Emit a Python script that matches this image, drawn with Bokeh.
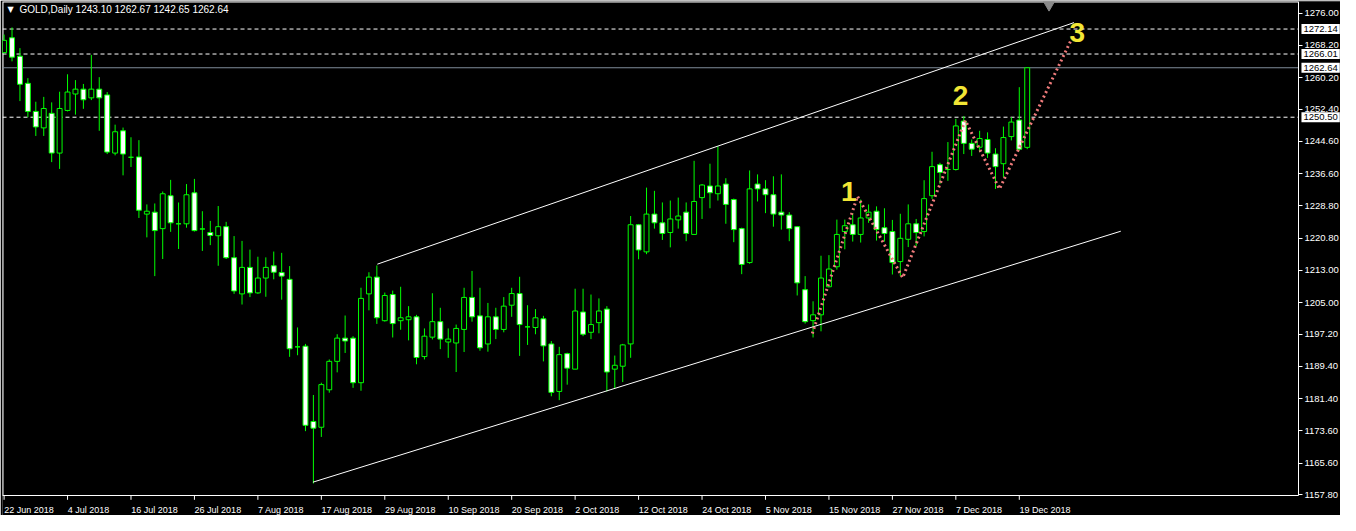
from bokeh.plotting import figure
from bokeh.models import (FixedTicker, Range1d, Label, ColumnDataSource, PrintfTickFormatter,
                          LinearAxis, CustomJSTickFormatter)
from bokeh.core.properties import value
from bokeh.embed import file_html
from bokeh.resources import INLINE

# ---------------- data (GOLD, Daily) ----------------
opens = [1266.35, 1270.00, 1265.48, 1258.82, 1251.92, 1247.88, 1251.45, 1241.70, 1252.16, 1256.20,
         1257.39, 1255.25, 1257.39, 1255.97, 1241.70, 1247.17, 1240.67, 1240.75, 1226.72, 1227.19,
         1223.15, 1231.23, 1224.34, 1224.34, 1231.95, 1223.07, 1222.20, 1221.41, 1223.63, 1216.02,
         1207.14, 1213.64, 1207.38, 1211.03, 1214.04, 1212.38, 1210.71, 1194.14, 1194.30, 1175.83,
         1174.41, 1183.60, 1190.58, 1196.28, 1196.28, 1185.34, 1207.14, 1211.26, 1200.56, 1206.98,
         1200.56, 1200.80, 1201.51, 1191.76, 1196.52, 1200.32, 1195.33, 1195.09, 1198.42, 1206.27,
         1201.75, 1194.85, 1201.51, 1198.42, 1204.36, 1207.22, 1199.05, 1198.89, 1201.03, 1194.85,
         1183.20, 1192.47, 1188.67, 1202.70, 1197.71, 1200.08, 1203.41, 1188.67, 1189.39, 1194.86,
         1224.11, 1217.45, 1226.72, 1224.58, 1222.21, 1225.30, 1227.20, 1221.73, 1230.77, 1233.62,
         1231.72, 1234.10, 1230.29, 1223.16, 1214.83, 1234.10, 1232.91, 1231.48, 1227.20, 1226.49,
         1223.63, 1208.17, 1200.57, 1202.00, 1208.89, 1213.80, 1222.44, 1224.10, 1221.73, 1225.77,
         1227.43, 1223.39, 1222.44, 1215.07, 1220.54, 1224.34, 1222.44, 1231.24, 1238.85, 1237.66,
         1237.66, 1249.55, 1244.08, 1243.13, 1245.03, 1241.46, 1239.09, 1245.75, 1249.79, 1243.10]
highs = [1270.79, 1272.53, 1267.46, 1260.09, 1254.30, 1255.49, 1254.14, 1256.76, 1261.04, 1259.61,
         1258.66, 1265.80, 1260.33, 1256.68, 1248.67, 1247.96, 1245.58, 1244.87, 1229.10, 1229.33,
         1232.27, 1235.12, 1229.57, 1234.09, 1235.36, 1227.43, 1225.05, 1228.70, 1224.82, 1221.33,
         1220.14, 1218.00, 1216.26, 1216.10, 1217.53, 1217.21, 1213.96, 1198.90, 1194.86, 1182.33,
         1185.34, 1191.05, 1197.23, 1201.83, 1196.76, 1208.65, 1212.45, 1214.12, 1207.46, 1207.94,
         1208.89, 1204.13, 1201.99, 1198.66, 1207.30, 1203.73, 1198.66, 1199.61, 1208.64, 1212.77,
         1208.64, 1204.92, 1203.73, 1206.35, 1208.64, 1211.34, 1204.36, 1203.41, 1201.75, 1195.56,
         1194.14, 1192.71, 1208.41, 1208.41, 1206.98, 1206.03, 1204.13, 1192.00, 1194.86, 1226.25,
         1224.30, 1233.22, 1232.43, 1229.58, 1230.05, 1230.77, 1229.58, 1239.80, 1234.10, 1239.09,
         1243.37, 1235.52, 1230.53, 1223.39, 1237.43, 1236.47, 1235.05, 1236.00, 1236.47, 1227.20,
         1223.70, 1211.50, 1205.32, 1216.50, 1216.65, 1225.37, 1225.37, 1226.96, 1230.29, 1229.10,
         1228.62, 1228.15, 1225.29, 1226.80, 1229.10, 1225.53, 1235.04, 1242.02, 1239.32, 1244.40,
         1250.10, 1250.74, 1245.03, 1247.17, 1246.78, 1242.89, 1248.20, 1250.50, 1257.87, 1262.67]
lows = [1266.19, 1264.21, 1254.46, 1250.50, 1245.90, 1245.90, 1239.48, 1237.81, 1251.92, 1251.13,
        1252.56, 1254.70, 1247.17, 1241.46, 1241.14, 1236.23, 1238.29, 1225.77, 1221.01, 1211.50,
        1215.70, 1222.36, 1218.16, 1223.39, 1222.44, 1217.68, 1219.11, 1214.04, 1215.70, 1207.14,
        1204.53, 1206.35, 1207.14, 1206.43, 1210.71, 1205.72, 1191.69, 1192.08, 1173.45, 1160.61,
        1172.03, 1182.89, 1187.88, 1192.64, 1184.08, 1183.36, 1203.10, 1199.77, 1200.33, 1196.44,
        1198.34, 1195.73, 1189.86, 1191.05, 1195.96, 1193.58, 1191.44, 1187.96, 1192.87, 1200.32,
        1193.19, 1192.95, 1196.04, 1197.71, 1201.51, 1191.92, 1194.61, 1197.23, 1190.57, 1182.01,
        1181.06, 1184.86, 1188.67, 1196.76, 1196.04, 1197.47, 1183.20, 1183.91, 1185.50, 1191.45,
        1215.63, 1216.89, 1223.16, 1220.38, 1218.56, 1223.16, 1220.07, 1221.73, 1225.53, 1228.15,
        1230.05, 1224.35, 1219.83, 1211.98, 1214.52, 1229.82, 1226.96, 1223.63, 1222.92, 1220.07,
        1206.75, 1199.85, 1196.44, 1197.95, 1208.73, 1213.09, 1218.08, 1219.98, 1219.74, 1224.58,
        1220.22, 1219.98, 1211.90, 1211.50, 1218.63, 1218.87, 1221.25, 1230.45, 1234.09, 1234.88,
        1237.42, 1241.46, 1240.99, 1241.94, 1240.51, 1232.90, 1235.76, 1244.80, 1242.26, 1242.65]
closes = [1269.36, 1265.24, 1258.58, 1251.92, 1248.12, 1252.64, 1241.70, 1252.64, 1256.68, 1257.39,
          1254.78, 1257.39, 1255.25, 1241.94, 1246.93, 1241.46, 1240.67, 1227.67, 1227.43, 1222.67,
          1231.71, 1224.58, 1224.34, 1231.47, 1222.67, 1223.07, 1221.48, 1223.63, 1216.02, 1207.86,
          1213.64, 1207.38, 1211.03, 1213.64, 1212.45, 1211.50, 1193.67, 1194.14, 1174.88, 1174.17,
          1184.87, 1190.58, 1196.28, 1195.57, 1185.34, 1206.03, 1211.26, 1201.28, 1206.75, 1199.85,
          1201.28, 1201.51, 1191.53, 1196.76, 1200.32, 1196.04, 1196.04, 1198.66, 1206.27, 1201.51,
          1193.90, 1201.51, 1198.42, 1204.13, 1207.22, 1199.61, 1199.05, 1201.27, 1194.38, 1182.96,
          1192.23, 1188.91, 1202.94, 1197.23, 1199.61, 1202.94, 1187.96, 1189.62, 1194.62, 1224.11,
          1217.92, 1226.72, 1224.58, 1221.97, 1225.53, 1226.25, 1221.97, 1229.82, 1233.86, 1231.96,
          1233.62, 1229.10, 1222.92, 1214.36, 1232.91, 1232.91, 1231.48, 1226.72, 1226.49, 1223.16,
          1209.84, 1200.32, 1202.00, 1211.03, 1213.24, 1221.73, 1223.87, 1221.73, 1225.77, 1227.20,
          1222.92, 1221.96, 1214.83, 1220.78, 1224.34, 1222.20, 1230.52, 1238.37, 1236.95, 1237.66,
          1248.36, 1244.08, 1242.65, 1245.27, 1241.70, 1238.37, 1245.51, 1249.31, 1242.65, 1262.64]

date_labels = ["22 Jun 2018", "4 Jul 2018", "16 Jul 2018", "26 Jul 2018", "7 Aug 2018", "17 Aug 2018",
               "29 Aug 2018", "10 Sep 2018", "20 Sep 2018", "2 Oct 2018", "12 Oct 2018", "24 Oct 2018",
               "5 Nov 2018", "15 Nov 2018", "27 Nov 2018", "7 Dec 2018", "19 Dec 2018"]
bars_per_label = 8

price_ticks = [1276.00, 1268.20, 1260.20, 1252.40, 1244.60, 1236.60, 1228.80, 1220.80,
               1213.00, 1205.00, 1197.20, 1189.40, 1181.40, 1173.60, 1165.60, 1157.80]

level_prices = [1272.14, 1266.01, 1250.50]
bid_price = 1262.64

# trend lines (bar index, price)
upper_x = [47.06, 134.9]
upper_y = [1214.43, 1273.72]
lower_x = [38.94, 140.8]
lower_y = [1160.93, 1222.52]

# wave zigzag (bar index, price)
wave_x = [101.9, 107.6, 113.3, 121.2, 125.5, 134.8]
wave_y = [1197.4, 1231.1, 1211.1, 1249.7, 1232.9, 1270.5]
wave_labels = ["1", "2", "3"]
wave_label_x = [106.5, 120.6, 135.3]
wave_label_y = [1232.3, 1255.8, 1271.3]

symbol = "GOLD,Daily"

# ---------------- chart ----------------
GREEN = "#00ff00"
FONT = "Liberation Sans"
DATE_FONT_PX = 9

n = len(opens)
idx = list(range(n))
src = ColumnDataSource(dict(
    x=idx, o=opens, h=highs, l=lows, c=closes,
    top=[max(o, c) for o, c in zip(opens, closes)],
    bottom=[min(o, c) for o, c in zip(opens, closes)],
    fill=["black" if c >= o else "white" for o, c in zip(opens, closes)],
))

# the frame also holds the price scale (right) and the time scale (bottom)
x_start, x_border, x_end = -0.2, 163.2, 168.5
y_border, y_end = 1157.6, 1278.9
y_start = y_border - 0.04 * (y_end - y_border)

FRAME_W, FRAME_H = 1328, 504  # approx. frame size in px (for offsets)
px_per_bar = FRAME_W / (x_end - x_start)
price_per_px = (y_end - y_start) / FRAME_H

p = figure(width=1340, height=515, output_backend="svg", toolbar_location=None,
           x_range=Range1d(x_start, x_end), y_range=Range1d(y_start, y_end),
           y_axis_location=None, x_axis_location=None,
           background_fill_color="black", border_fill_color="black",
           outline_line_color=None,
           min_border=0, min_border_left=2, min_border_top=1, min_border_right=0)
p.grid.visible = False

# price axis drawn at the chart's right border
ya = LinearAxis(fixed_location=x_border, bounds=(y_border, y_end))
p.add_layout(ya, "right")
ya.ticker = FixedTicker(ticks=price_ticks)
ya.formatter = PrintfTickFormatter(format="%.2f")
ya.major_label_text_font_size = "9.5px"
ya.major_label_standoff = 2
ya.axis_line_color = "white"
ya.major_tick_line_color = "white"

# time axis: date labels left-aligned on their tick (labels centred to the right of the tick)
tick_pos = [i * bars_per_label for i in range(len(date_labels))]
AW = {"0": .556, "1": .556, "2": .556, "3": .556, "4": .556, "5": .556, "6": .556, "7": .556,
      "8": .556, "9": .556, " ": .278, "J": .5, "u": .556, "n": .556, "l": .222, "A": .667,
      "g": .556, "S": .667, "e": .556, "p": .556, "O": .778, "c": .5, "t": .278, "N": .722,
      "o": .556, "v": .5, "D": .722}
label_w = [sum(AW.get(ch, .55) for ch in s) * DATE_FONT_PX for s in date_labels]
label_centers = [t + (w / 2) / px_per_bar for t, w in zip(tick_pos, label_w)]
xl = LinearAxis(fixed_location=y_border, bounds=(x_start, x_border))
p.add_layout(xl, "below")
xl.ticker = FixedTicker(ticks=label_centers)
xl.formatter = CustomJSTickFormatter(args=dict(labels=date_labels), code="return labels[index];")
xl.axis_line_color = "white"
xl.major_tick_line_color = None
xl.major_label_text_font_size = f"{DATE_FONT_PX}px"
xl.major_label_standoff = 5

for ax in (ya, xl):
    ax.major_tick_out = 4
    ax.major_tick_in = 0
    ax.minor_tick_line_color = None
    ax.major_label_text_color = "white"
    ax.major_label_text_font = FONT

# time-axis tick marks (every 8th bar, hanging below the bottom border)
tick_len = 4 * price_per_px
p.segment(x0=tick_pos, x1=tick_pos, y0=[y_border] * len(tick_pos),
          y1=[y_border - tick_len] * len(tick_pos), line_color="white", line_width=1)

# left and top borders of the chart
p.line([x_start, x_start, x_border], [y_border, y_end, y_end], line_color="white", line_width=2)

# horizontal levels (stop at the chart border)
p.segment(x0=[x_start] * len(level_prices), x1=[x_border] * len(level_prices),
          y0=level_prices, y1=level_prices, line_color="white", line_width=1, line_dash="4 3")
p.segment(x0=[x_start], x1=[x_border], y0=[bid_price], y1=[bid_price],
          line_color="#7f8c9a", line_width=1)

# candles
p.segment(x0="x", y0="h", x1="x", y1="l", source=src, line_color=GREEN, line_width=1)
p.vbar(x="x", top="top", bottom="bottom", width=0.62, source=src,
       fill_color="fill", line_color=GREEN, line_width=1)

# trend lines
p.line(upper_x, upper_y, line_color="white", line_width=1)
p.line(lower_x, lower_y, line_color="white", line_width=1)

# wave zigzag
p.line(wave_x, wave_y, line_color="#ef7b7b", line_width=3, line_dash="2 3")
p.text(x=wave_label_x, y=wave_label_y, text=wave_labels, text_font=value(FONT),
       text_font_style="bold", text_font_size="28px", text_color="#f2e635",
       text_align="center", text_baseline="middle")

# chart-shift marker
p.scatter(x=[n + 1.75], y=[y_end - 0.8], marker="inverted_triangle", size=11,
          fill_color="#8a8a8a", line_color="#8a8a8a")

# price boxes on the price scale
for pr in level_prices + [bid_price]:
    p.add_layout(Label(x=x_border, y=pr, x_offset=3, text=f"{pr:.2f}", text_color="black",
                       text_font=FONT, text_font_size="9.5px", text_align="left",
                       text_baseline="middle", background_fill_color="white", padding=2))

# header
p.add_layout(Label(x=x_start, y=y_end, x_offset=5, y_offset=-8, text="\u25bc",
                   text_color="white", text_font="DejaVu Sans", text_font_size="8px",
                   text_baseline="middle"))
hdr = f"{symbol}  {opens[-1]:.2f} {highs[-1]:.2f} {lows[-1]:.2f} {closes[-1]:.2f}"
p.add_layout(Label(x=x_start, y=y_end, x_offset=17, y_offset=-8, text=hdr,
                   text_color="white", text_font=FONT, text_font_size="10px",
                   text_baseline="middle"))

open("out.html", "w").write(file_html(p, INLINE))
